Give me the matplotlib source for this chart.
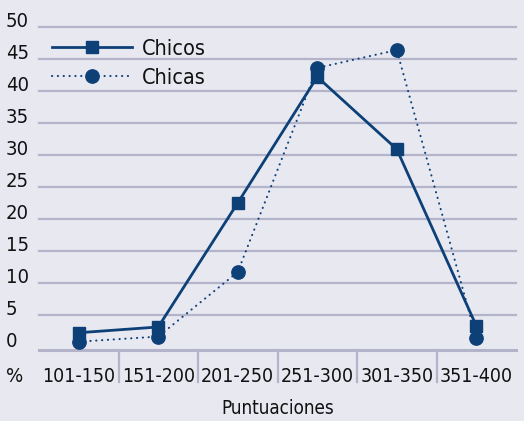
import matplotlib.pyplot as plt

# datos
categorias = ['101-150', '151-200', '201-250', '251-300', '301-350', '351-400']
chicos = [2.2, 3.1, 22.5, 42.2, 30.9, 3.3]
chicas = [0.8, 1.6, 11.7, 43.6, 46.4, 1.4]
y_ticks = [0, 5, 10, 15, 20, 25, 30, 35, 40, 45, 50]

fondo = '#e8e8f1'
azul = '#0e4078'
gris = '#b3b3c9'
texto = '#111111'
plt.rcParams['font.family'] = ['DejaVu Sans']
plt.rcParams['font.stretch'] = 'condensed'

W, H = 524, 421
fig = plt.figure(figsize=(W / 100, H / 100), dpi=100, facecolor=fondo)
ax = fig.add_axes([39 / W, (H - 350) / H, (516 - 39) / W, (350 - 27) / H])
ax.set_facecolor(fondo)

n = len(categorias)
x = list(range(n))
ax.set_xlim(-0.5, n - 0.5)
ax.set_ylim(-0.5, 50)

# lineas de la cuadricula
for v in y_ticks[1:]:
    ax.axhline(v, color=gris, lw=1.6, zorder=1, clip_on=False)
ax.axhline(-0.5, color=gris, lw=2.2, zorder=1, clip_on=False)

# separadores de categorias
for i in range(1, n):
    ax.plot([i - 0.5, i - 0.5], [-0.5, -5.5], color=gris, lw=1.6, clip_on=False)

# series
ax.plot(x, chicos, color=azul, lw=2.0, marker='s', markersize=8.6,
        label='Chicos', zorder=3)
ax.plot(x, chicas, color=azul, lw=1.5, linestyle=(0, (0.1, 2.7)),
        dash_capstyle='round', marker='o', markersize=9.6,
        label='Chicas', zorder=3)

for s in ax.spines.values():
    s.set_visible(False)
ax.set_xticks([])
ax.set_yticks([])

# etiquetas del eje y (alineadas a la izquierda del borde de la figura)
x_lab = -0.5 - 33 / 79.5
for v in y_ticks:
    ax.text(x_lab, v + 0.85, str(v), ha='left', va='center',
            fontsize=14.5, color=texto)
ax.text(x_lab, -4.7, '%', ha='left', va='center', fontsize=14.5, color=texto)

# etiquetas del eje x
for i, c in enumerate(categorias):
    ax.text(i, -4.7, c, ha='center', va='center', fontsize=14, color=texto)

ax.text((n - 1) / 2, -9.6, 'Puntuaciones', ha='center', va='center',
        fontsize=13.5, color=texto)

leg = ax.legend(loc='upper left', bbox_to_anchor=(0.01, 0.99), frameon=False,
                prop={'size': 15.5, 'stretch': 'condensed'},
                handlelength=3.72, handletextpad=0.42,
                labelspacing=0.41, borderaxespad=0)
for t in leg.get_texts():
    t.set_color(texto)

fig.savefig('out.png', dpi=100, facecolor=fondo)
